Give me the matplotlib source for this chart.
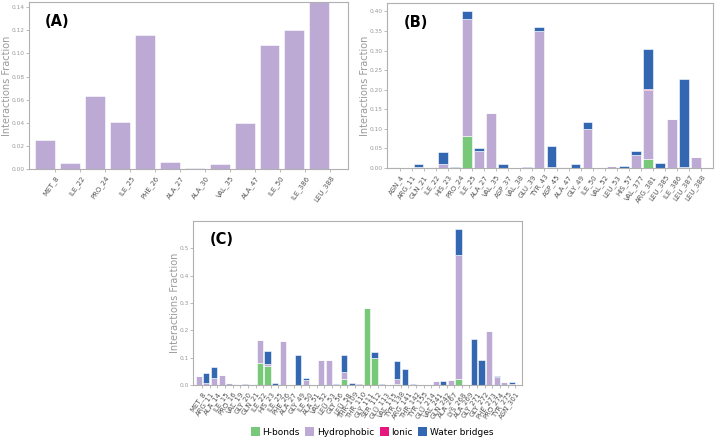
import matplotlib
matplotlib.use("Agg")
import matplotlib.pyplot as plt
import numpy as np
from matplotlib.patches import Patch

# ---------------- data ----------------
a_labels = ["MET_8", "ILE_22", "PRO_24", "ILE_25", "PHE_26", "ALA_27", "ALA_30",
            "VAL_35", "ALA_47", "ILE_50", "ILE_386", "LEU_388"]
a_hydrophobic = [0.025, 0.005, 0.063, 0.041, 0.116, 0.006, 0.001, 0.004, 0.040, 0.107, 0.120, 0.147]

b_labels = ["ASN_4", "ARG_11", "GLN_21", "ILE_22", "HIS_23", "PRO_24", "ILE_25", "ALA_27",
            "VAL_35", "ASP_37", "VAL_38", "GLU_39", "TYR_43", "ASP_45", "ALA_47", "GLY_49",
            "ILE_50", "VAL_52", "LEU_53", "HIS_57", "VAL_377", "ARG_381", "LEU_385",
            "ILE_386", "LEU_387", "LEU_388"]
b_hbonds      = [0, 0, 0.003, 0, 0, 0, 0.082, 0, 0, 0, 0, 0, 0, 0.004, 0, 0,
                 0, 0, 0, 0, 0, 0.023, 0, 0, 0.002, 0]
b_hydrophobic = [0.002, 0.001, 0, 0.003, 0.010, 0, 0.298, 0.043, 0.140, 0, 0.001, 0, 0.350, 0, 0.002, 0,
                 0.100, 0.001, 0.006, 0, 0.033, 0.177, 0, 0.125, 0, 0.027]
b_ionic       = [0, 0, 0, 0, 0, 0, 0, 0, 0, 0, 0, 0, 0, 0, 0, 0,
                 0, 0, 0, 0, 0, 0.002, 0, 0, 0, 0]
b_water       = [0, 0, 0.007, 0, 0.030, 0.004, 0.020, 0.007, 0, 0.010, 0, 0.004, 0.010, 0.053, 0, 0.010,
                 0.017, 0, 0, 0.005, 0.010, 0.103, 0.013, 0, 0.226, 0]

c_labels = ["MET_8", "ARG_11", "ALA_14", "ILE_15", "PRO_16", "VAL_19", "GLY_20", "GLN_21",
            "ILE_22", "HIS_23", "ILE_25", "PHE_26", "ALA_27", "GLY_49", "ILE_50", "ALA_51",
            "VAL_52", "LEU_53", "GLY_56", "LEU_58", "THR_109", "THR_110", "GLY_111", "SER_112",
            "GLU_113", "VAL_115", "TYR_138", "ARG_141", "THR_142", "TYR_155", "GLU_214",
            "VAL_241", "GLN_242", "ALA_267", "LYS_268", "ALA_269", "GLY_271", "GLY_272",
            "PHE_273", "PRO_274", "TYR_275", "ASN_301"]
c_hbonds      = [0, 0, 0, 0, 0, 0, 0, 0.002, 0.080, 0.070, 0, 0, 0, 0, 0, 0,
                 0, 0, 0, 0.022, 0, 0, 0.280, 0.100, 0, 0, 0.003, 0, 0, 0, 0,
                 0, 0, 0, 0.022, 0, 0, 0, 0, 0, 0, 0.005]
c_hydrophobic = [0.033, 0.007, 0.025, 0.038, 0.006, 0.004, 0, 0, 0.085, 0.006, 0, 0.162, 0.001, 0, 0.020, 0,
                 0.092, 0.092, 0, 0.026, 0, 0, 0, 0, 0, 0, 0.019, 0, 0, 0, 0,
                 0.015, 0, 0.018, 0.453, 0.001, 0, 0, 0.197, 0.028, 0.012, 0]
c_ionic       = [0] * 42
c_water       = [0, 0.038, 0.040, 0, 0, 0, 0.003, 0, 0, 0.047, 0.008, 0, 0, 0.110, 0.005, 0,
                 0, 0, 0.003, 0.062, 0.007, 0.003, 0, 0.020, 0.002, 0, 0.066, 0.058, 0.003, 0, 0,
                 0, 0.015, 0, 0.095, 0, 0.170, 0.090, 0, 0.004, 0, 0.005]

# ---------------- style ----------------
COL_HB = "#78c87a"
COL_HP = "#bcaad5"
COL_ION = "#e5177f"
COL_WB = "#3467b2"
GRAY = "#9a9a9a"
SPINE = "#b0b0b0"

fig = plt.figure(figsize=(7.15, 4.4), dpi=100)


def style_axes(ax, labels, xlim, ylim, yticks, fmt, letter, ylab_x):
    x = np.arange(len(labels))
    ax.set_xlim(*xlim)
    ax.set_ylim(*ylim)
    ax.set_xticks(x + 0.03)
    ax.set_xticklabels(labels, rotation=55, ha="right", rotation_mode="anchor",
                       fontsize=5, color="#555555")
    ax.set_yticks(yticks)
    ax.set_yticklabels([fmt.format(v) for v in yticks], fontsize=4.2, color=GRAY)
    ax.tick_params(axis="x", length=2.5, width=0.6, color=SPINE, pad=1.5)
    ax.tick_params(axis="y", length=2.0, width=0.6, color=SPINE, pad=1.0)
    for s in ax.spines.values():
        s.set_color(SPINE)
        s.set_linewidth(0.8)
    ax.set_ylabel("Interactions Fraction", fontsize=7, color=GRAY)
    ax.yaxis.set_label_coords(ylab_x, 0.5)
    ax.text(0.05, 0.93, letter, transform=ax.transAxes, fontsize=10.5,
            fontweight="bold", va="top", ha="left", color="black")


def stacked(ax, series, colors):
    n = len(series[0])
    x = np.arange(n)
    bottom = np.zeros(n)
    for vals, col in zip(series, colors):
        v = np.array(vals, dtype=float)
        ax.bar(x, v, width=-0.8, align="edge", bottom=bottom, color=col,
               edgecolor="white", linewidth=0.4)
        bottom = bottom + v


# Panel A
axA = fig.add_axes([0.0406, 0.616, 0.4461, 0.3795])
stacked(axA, [a_hydrophobic], [COL_HP])
style_axes(axA, a_labels, (-1.02, 11.74), (0, 0.1445),
           [0.0, 0.02, 0.04, 0.06, 0.08, 0.10, 0.12, 0.14], "{:.2f}", "(A)", -0.052)

# Panel B
axB = fig.add_axes([0.5413, 0.618, 0.4559, 0.375])
stacked(axB, [b_hbonds, b_hydrophobic, b_ionic, b_water], [COL_HB, COL_HP, COL_ION, COL_WB])
style_axes(axB, b_labels, (-1.02, 26.0), (0, 0.421),
           [0.0, 0.05, 0.10, 0.15, 0.20, 0.25, 0.30, 0.35, 0.40], "{:.2f}", "(B)", -0.052)

# Panel C
axC = fig.add_axes([0.270, 0.125, 0.460, 0.3727])
stacked(axC, [c_hbonds, c_hydrophobic, c_ionic, c_water], [COL_HB, COL_HP, COL_ION, COL_WB])
style_axes(axC, c_labels, (-1.15, 41.9), (0, 0.6),
           [0.0, 0.1, 0.2, 0.3, 0.4, 0.5], "{:.1f}", "(C)", -0.040)

handles = [Patch(facecolor=COL_HB, label="H-bonds"),
           Patch(facecolor=COL_HP, label="Hydrophobic"),
           Patch(facecolor=COL_ION, label="Ionic"),
           Patch(facecolor=COL_WB, label="Water bridges")]
fig.legend(handles=handles, loc="center", bbox_to_anchor=(372 / 715, 1 - 432 / 440),
           ncol=4, fontsize=6.5, frameon=False, handlelength=1.0, handleheight=1.0,
           handletextpad=0.3, columnspacing=0.6, borderpad=0.2)

fig.savefig("out.png", dpi=100)
